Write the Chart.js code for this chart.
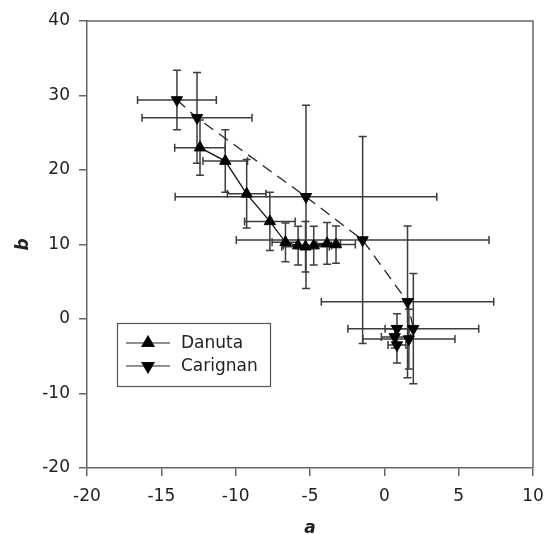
<!DOCTYPE html>
<html>
<head>
<meta charset="utf-8">
<script src="https://cdn.jsdelivr.net/npm/chart.js@4/dist/chart.umd.min.js"></script>
<style>
  html, body { margin: 0; padding: 0; background: #fff; }
</style>
</head>
<body>
<canvas id="myChart" width="546" height="535"></canvas>
<script>
// valeurs (a, b et barres d'erreur)
const danutaA    = [-12.4, -10.7, -9.26, -7.7, -6.65, -5.8, -5.3, -4.75, -3.85, -3.25];
const danutaB    = [23.0, 21.2, 16.8, 13.1, 10.3, 9.85, 9.7, 9.85, 10.15, 10.0];
const danutaAErr = [1.7, 1.5, 1.3, 1.7, 0.9, 1.0, 1.6, 1.2, 0.9, 1.3];
const danutaBErr = [3.7, 4.2, 4.6, 3.9, 2.6, 2.6, 3.4, 2.6, 2.8, 2.5];

const carA    = [-13.95, -12.6, -5.27, -1.46, 1.56, 1.95, 1.65, 0.85, 0.7, 0.85];
const carB    = [29.4, 27.0, 16.4, 10.6, 2.3, -1.3, -2.7, -1.3, -2.4, -3.5];
const carAErr = [2.65, 3.7, 8.8, 8.5, 5.8, 4.4, 3.1, 0.8, 0.9, 0.6];
const carBErr = [4.0, 6.1, 12.3, 13.9, 10.2, 7.4, 4.0, 2.0, 1.5, 2.4];

const xTicks = [-20, -15, -10, -5, 0, 5, 10];
const yTicks = [-20, -10, 0, 10, 20, 30, 40];

function points(a, b, ea, eb) {
  const out = [];
  for (let i = 0; i < a.length; i++) {
    out.push({ x: a[i], y: b[i], xErr: ea[i], yErr: eb[i] });
  }
  return out;
}

const FONT = "'DejaVu Sans', 'Liberation Sans', Arial, sans-serif";

// barres d'erreur dessinées avec les échelles du graphique
const errorBars = {
  id: "errorBars",
  beforeDatasetsDraw(chart) {
    const ctx = chart.ctx;
    const xs = chart.scales.x, ys = chart.scales.y;
    const cap = 4;
    ctx.save();
    ctx.strokeStyle = "#3c3c3c";
    ctx.lineWidth = 1.5;
    chart.data.datasets.forEach(function (ds) {
      ds.data.forEach(function (p) {
        const x = xs.getPixelForValue(p.x), y = ys.getPixelForValue(p.y);
        const x0 = xs.getPixelForValue(p.x - p.xErr), x1 = xs.getPixelForValue(p.x + p.xErr);
        const y0 = ys.getPixelForValue(p.y - p.yErr), y1 = ys.getPixelForValue(p.y + p.yErr);
        ctx.beginPath();
        ctx.moveTo(x0, y); ctx.lineTo(x1, y);
        ctx.moveTo(x0, y - cap); ctx.lineTo(x0, y + cap);
        ctx.moveTo(x1, y - cap); ctx.lineTo(x1, y + cap);
        ctx.moveTo(x, y0); ctx.lineTo(x, y1);
        ctx.moveTo(x - cap, y0); ctx.lineTo(x + cap, y0);
        ctx.moveTo(x - cap, y1); ctx.lineTo(x + cap, y1);
        ctx.stroke();
      });
    });
    ctx.restore();
  },
};

// cadre (haut + droite) et légende dans la zone du graphique
const frameLegend = {
  id: "frameLegend",
  afterDraw(chart) {
    const ctx = chart.ctx;
    const area = chart.chartArea;
    ctx.save();
    ctx.strokeStyle = "#666";
    ctx.lineWidth = 1.5;
    ctx.beginPath();
    ctx.moveTo(area.left, area.top);
    ctx.lineTo(area.right, area.top);
    ctx.lineTo(area.right, area.bottom);
    ctx.stroke();

    // boîte de légende
    const bx = 117, by = 323, bw = 153, bh = 63;
    ctx.fillStyle = "#fff";
    ctx.fillRect(bx, by, bw, bh);
    ctx.strokeStyle = "#555";
    ctx.lineWidth = 1.2;
    ctx.strokeRect(bx + 0.5, by + 0.5, bw, bh);

    chart.data.datasets.forEach(function (ds, i) {
      const ly = by + 20 + i * 23;
      ctx.strokeStyle = "#222";
      ctx.lineWidth = 1.2;
      ctx.setLineDash([]);
      ctx.beginPath();
      ctx.moveTo(bx + 9, ly);
      ctx.lineTo(bx + 53, ly);
      ctx.stroke();
      Chart.helpers.drawPoint(ctx, {
        pointStyle: "triangle",
        radius: 7,
        rotation: ds.pointRotation,
        borderWidth: 1,
      }, bx + 31, ly);
      ctx.fillStyle = "#000";
      ctx.fill();
      ctx.fillStyle = "#222";
      ctx.font = "17px " + FONT;
      ctx.textBaseline = "middle";
      ctx.textAlign = "left";
      ctx.fillText(ds.label, bx + 64, ly + 1);
    });
    ctx.restore();
  },
};

const config = {
  type: "scatter",
  data: {
    datasets: [
      {
        label: "Danuta",
        data: points(danutaA, danutaB, danutaAErr, danutaBErr),
        showLine: true,
        borderColor: "#111",
        borderWidth: 1.3,
        pointStyle: "triangle",
        pointRadius: 6.5,
        pointHoverRadius: 6.5,
        pointRotation: 0,
        pointBackgroundColor: "#000",
        pointBorderColor: "#000",
        pointBorderWidth: 1,
      },
      {
        label: "Carignan",
        data: points(carA, carB, carAErr, carBErr),
        showLine: true,
        borderColor: "#222",
        borderWidth: 1.3,
        borderDash: [11, 7],
        pointStyle: "triangle",
        pointRadius: 6.5,
        pointHoverRadius: 6.5,
        pointRotation: 180,
        pointBackgroundColor: "#000",
        pointBorderColor: "#000",
        pointBorderWidth: 1,
      },
    ],
  },
  options: {
    responsive: false,
    animation: false,
    layout: { padding: { left: 0, right: 13, top: 21, bottom: 0 } },
    plugins: {
      legend: { display: false },
      tooltip: { enabled: false },
    },
    scales: {
      x: {
        type: "linear",
        min: -20,
        max: 10,
        afterBuildTicks(scale) {
          scale.ticks = xTicks.map(function (v) { return { value: v }; });
        },
        afterFit(scale) {
          scale.height = 67;
          scale.paddingLeft = 0;
          scale.paddingRight = 0;
        },
        grid: { display: true, drawOnChartArea: false, drawTicks: true, tickLength: 8, color: "#666", lineWidth: 1.5 },
        border: { display: true, color: "#666", width: 1.5 },
        ticks: { color: "#222", font: { family: FONT, size: 17 }, padding: 10, maxRotation: 0 },
        title: {
          display: true,
          text: "a",
          color: "#222",
          font: { family: FONT, size: 17, weight: "bold", style: "italic", lineHeight: 0.8 },
          padding: { top: 0, bottom: 0 },
        },
      },
      y: {
        type: "linear",
        min: -20,
        max: 40,
        afterBuildTicks(scale) {
          scale.ticks = yTicks.map(function (v) { return { value: v }; });
        },
        afterFit(scale) {
          scale.width = 87;
          scale.paddingTop = 0;
          scale.paddingBottom = 0;
        },
        grid: { display: true, drawOnChartArea: false, drawTicks: true, tickLength: 8, color: "#666", lineWidth: 1.5 },
        border: { display: true, color: "#666", width: 1.5 },
        ticks: { color: "#222", font: { family: FONT, size: 17 }, padding: 9 },
        title: {
          display: true,
          text: "b",
          color: "#222",
          font: { family: FONT, size: 17, weight: "bold", style: "italic" },
          padding: { top: 13, bottom: 0 },
        },
      },
    },
  },
  plugins: [errorBars, frameLegend],
};

let context = document.getElementById("myChart").getContext("2d");
let chart = new Chart(context, config);
</script>
</body>
</html>
